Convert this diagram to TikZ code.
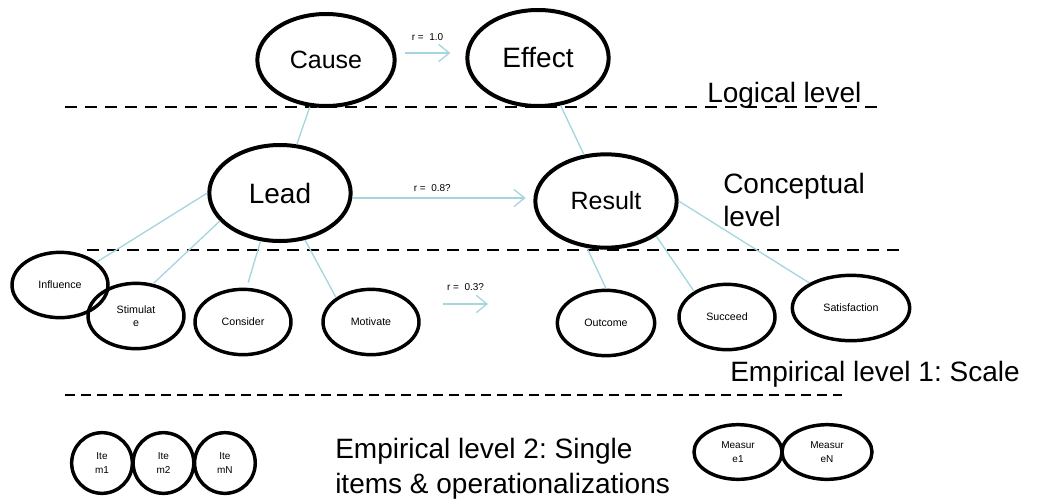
\documentclass[tikz,border=0pt]{standalone}
\usepackage{fontspec}
\setmainfont{Liberation Sans}
\usepackage{tikz}
\usetikzlibrary{positioning,shapes.geometric,arrows.meta}
\usepackage{xcolor}
\definecolor{linkblue}{RGB}{165,214,222}
\frenchspacing

\begin{document}
\begin{tikzpicture}[x=0.75pt,y=-0.75pt,
% styles
bignode/.style={ellipse, draw=black, line width=3pt, inner sep=0pt, minimum width=106pt, minimum height=72pt, font=\fontsize{21}{25}\selectfont},
smallnode/.style={ellipse, draw=black, line width=2.6pt, inner sep=0pt, minimum width=72pt, minimum height=49pt, align=center, font=\fontsize{8}{9.5}\selectfont},
itemnode/.style={circle, draw=black, line width=2.6pt, inner sep=0pt, minimum size=45.5pt, align=center, font=\fontsize{7.5}{10}\selectfont},
levelline/.style={line width=2.2pt, dash pattern=on 9pt off 6pt},
link/.style={linkblue, line width=1pt},
arr/.style={linkblue, line width=1pt, -{Straight Barb[length=8pt,width=13pt]}},
rlabel/.style={text=black, font=\fontsize{7.5}{9}\selectfont, inner sep=0pt},
leveltext/.style={font=\fontsize{21}{25}\selectfont, inner sep=0pt, align=left},
]
\useasboundingbox (0,0) rectangle (1037,500);

% level lines
\draw[levelline] (65,107) -- (880,107);
\draw[levelline] (87,250) -- (905,250);
\draw[levelline, line width=1.9pt, dash pattern=on 7.5pt off 4.5pt] (65,395) -- (842,395);

% Nodes
\node[bignode, minimum width=103pt, minimum height=69pt, font=\fontsize{18.75}{22}\selectfont] (cause) at (326,60) {Cause};
\node[bignode] (effect) at (538,58) {Effect};
\node[bignode] (lead) at (280,193) {Lead};
\node[bignode, minimum height=70pt, font=\fontsize{18.75}{22}\selectfont] (result) at (606,201) {Result};

\node[smallnode] (influence) at (60,285) {Influence};
\node[smallnode] (stimulate) at (136,316) {Stimulat\\e};
\node[smallnode] (consider) at (243,322) {Consider};
\node[smallnode] (motivate) at (371,322) {Motivate};
\node[smallnode, minimum width=73pt] (outcome) at (606,323) {Outcome};
\node[smallnode] (succeed) at (727,317) {Succeed};
\node[smallnode, minimum width=88pt] (satisfaction) at (851,308) {Satisfaction};

\node[itemnode] (item1) at (102,463) {Ite\\m1};
\node[itemnode] (item2) [right=-2pt of item1] {Ite\\m2};
\node[itemnode] (itemN) [right=-2pt of item2] {Ite\\mN};
\node[smallnode, minimum width=66pt, minimum height=41pt, font=\fontsize{7.5}{10}\selectfont] (measure1) at (738,452) {Measur\\e1};
\node[smallnode, minimum width=67.5pt, minimum height=41pt, font=\fontsize{7.5}{10}\selectfont] (measureN) [right=-2.6pt of measure1] {Measur\\eN};

% level texts
\node[leveltext, anchor=base west] (logical) at (707,102) {Logical level};
\node[leveltext, anchor=north west, font=\fontsize{21}{24.75}\selectfont] (conceptual) at (723,173) {Conceptual\\level};
\node[leveltext, anchor=base west] (scale) at (730,381) {Empirical level 1: Scale};
\node[leveltext, anchor=north west, font=\fontsize{21}{26}\selectfont] (single) at (335,438) {Empirical level 2: Single\\items \& operationalizations};

% Lines
\draw[link] (cause) -- (lead);
\draw[link] (effect) -- (result);
\draw[link] (lead.west) -- (influence);
\draw[link] (lead.205) -- (stimulate.62);
\draw[link, shorten >=4pt] (lead.248) -- (consider.84);
\draw[link] (lead.298) -- (motivate.145);
\draw[link] (result.248) -- (outcome.north);
\draw[link] (result.325) -- (succeed.142);
\draw[link] (result.east) -- (satisfaction.149);

% arrows
\draw[arr] ([xshift=6pt,yshift=5.25pt]cause.east) -- ([xshift=-11.25pt,yshift=3.75pt]effect.west)
  node[rlabel, midway, above=9pt] (r1) {r =\ \ 1.0};
\draw[arr] ([yshift=-3.75pt]lead.east) -- ([xshift=-5.75pt,yshift=2.25pt]result.west)
  node[rlabel, pos=0.46, above=4.5pt] (r2) {r =\ \ 0.8?};
\coordinate (a3s) at (443,304);
\coordinate (a3e) at (488,304);
\draw[arr] (a3s) -- (a3e) node[rlabel, midway, above=9.5pt] (r3) {r =\ \ 0.3?};

\end{tikzpicture}
\end{document}
